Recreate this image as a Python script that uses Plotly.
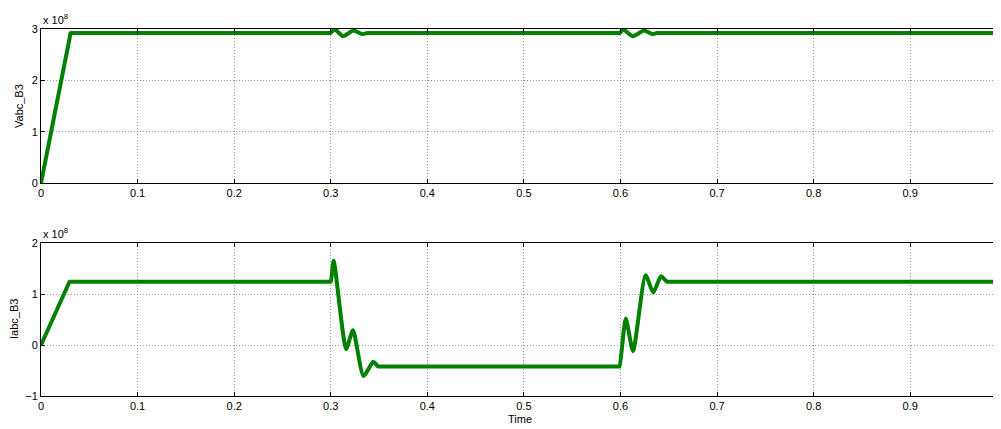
import plotly.graph_objects as go

# Vabc_B3 (units of 1e8)
t_v = [0.0, 0.0296, 0.0306, 0.0316, 0.2985, 0.2995, 0.3045, 0.3125, 0.3235, 0.3325, 0.338, 0.339,
       0.5980, 0.5990, 0.6030, 0.6125, 0.6245, 0.6330, 0.638, 0.639, 0.993]
v_v = [0.0, 2.82, 2.92, 2.92, 2.92, 2.92, 2.99, 2.86, 2.97, 2.90, 2.92, 2.92,
       2.92, 2.92, 2.99, 2.86, 2.97, 2.90, 2.92, 2.92, 2.92]

# Iabc_B3 (units of 1e8)
t_i = [0.0, 0.0286, 0.0296, 0.0306, 0.2990, 0.3000, 0.3030, 0.3160, 0.3230, 0.3340, 0.3440, 0.3490, 0.3500,
       0.5980, 0.5990, 0.6055, 0.6130, 0.6260, 0.6340, 0.6420, 0.6480, 0.6490, 0.993]
v_i = [0.0, 1.20, 1.24, 1.24, 1.24, 1.24, 1.65, -0.08, 0.29, -0.61, -0.33, -0.42, -0.42,
       -0.42, -0.42, 0.52, -0.12, 1.37, 1.03, 1.35, 1.24, 1.24, 1.24]

x_ticks = [0, 0.1, 0.2, 0.3, 0.4, 0.5, 0.6, 0.7, 0.8, 0.9]
x_tick_labels = ["0", "0.1", "0.2", "0.3", "0.4", "0.5", "0.6", "0.7", "0.8", "0.9"]
yv_ticks = [0, 1, 2, 3]
yi_ticks = [-1, 0, 1, 2]

green = "rgb(0,128,0)"
fig = go.Figure()
fig.add_trace(go.Scatter(x=t_v, y=v_v, mode="lines", line=dict(color=green, width=4, shape="spline", smoothing=0.6),
                         xaxis="x", yaxis="y", showlegend=False))
fig.add_trace(go.Scatter(x=t_i, y=v_i, mode="lines", line=dict(color=green, width=4, shape="spline", smoothing=0.6),
                         xaxis="x2", yaxis="y2", showlegend=False))

font = dict(family="Liberation Sans, Arial, sans-serif", size=11, color="black")
axis_common = dict(showline=True, linecolor="black", linewidth=1, mirror="ticks", ticks="inside", ticklen=4,
                   tickcolor="black", showgrid=True, gridcolor="#9a9a9a", griddash="1px,2px", gridwidth=1,
                   zeroline=False, tickfont=font, automargin=False)

# page body has an 8px margin: figure origin sits at page (8, 8)
OFF = 8
FW, FH = 1001 - OFF, 429 - OFF
L = 41 - OFF
T = 29 - OFF
R = FW - (1000 - OFF)
B = FH - (396 - OFF)
H = FH - T - B
W = FW - L - R
top_dom = [(396 - 183) / H, 1.0]
bot_dom = [0.0, (396 - 243) / H]

def px(x):
    return (x - 41) / W

def py(y):
    return (396 - y) / H

fig.update_layout(
    width=FW, height=FH,
    margin=dict(l=L, r=R, t=T, b=B),
    plot_bgcolor="white", paper_bgcolor="white",
    font=font,
    xaxis=dict(range=[0, 0.993], tickvals=x_ticks, ticktext=x_tick_labels, domain=[0, 1], anchor="y", **axis_common),
    yaxis=dict(range=[0, 3], tickvals=yv_ticks, domain=top_dom, anchor="x", **axis_common),
    xaxis2=dict(range=[0, 0.993], tickvals=x_ticks, ticktext=x_tick_labels, domain=[0, 1], anchor="y2", **axis_common),
    yaxis2=dict(range=[-1, 2], tickvals=yi_ticks, domain=bot_dom, anchor="x2", **axis_common),
    annotations=[
        dict(text="x 10<sup>8</sup>", x=0, xref="paper", xanchor="left", y=top_dom[1], yref="paper",
             yanchor="bottom", yshift=1, showarrow=False, font=font),
        dict(text="x 10<sup>8</sup>", x=0, xref="paper", xanchor="left", y=bot_dom[1], yref="paper",
             yanchor="bottom", yshift=1, showarrow=False, font=font),
        dict(text="Vabc_B3", x=px(19), y=py(106), xref="paper", yref="paper", textangle=-90,
             showarrow=False, font=font, xanchor="center", yanchor="middle"),
        dict(text="Iabc_B3", x=px(14), y=py(319), xref="paper", yref="paper", textangle=-90,
             showarrow=False, font=font, xanchor="center", yanchor="middle"),
        dict(text="Time", x=px(520), y=py(419), xref="paper", yref="paper",
             showarrow=False, font=font, xanchor="center", yanchor="middle"),
    ],
)

fig.write_html("out.html")
